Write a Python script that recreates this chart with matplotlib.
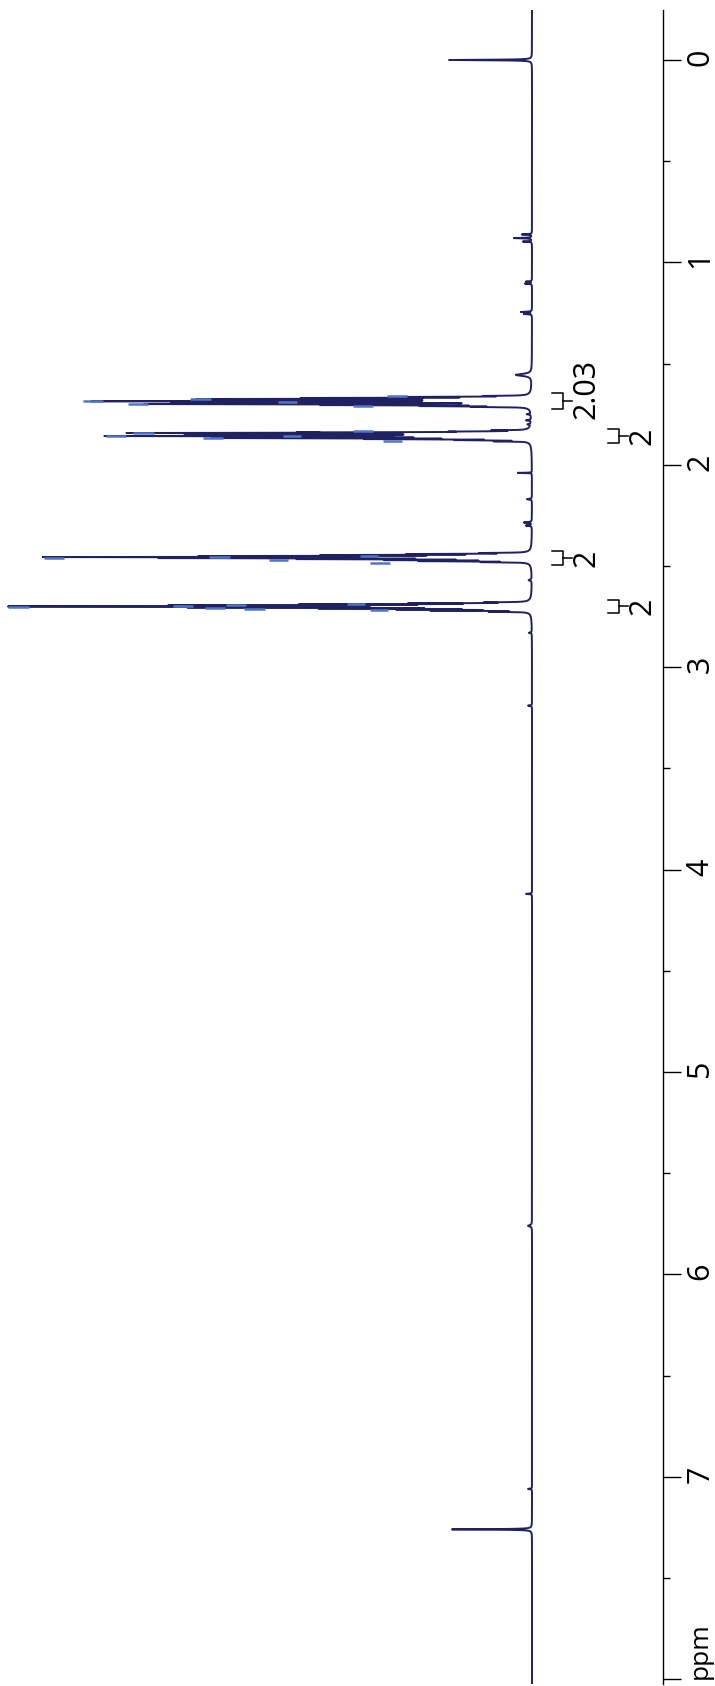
import numpy as np
import matplotlib
matplotlib.use('Agg')
import matplotlib.pyplot as plt

plt.rcParams['font.family'] = ['Open Sans', 'DejaVu Sans']

# peak list: shift (ppm), height, half width (ppm)
peak_ppm = [0.000,
            0.862, 0.880, 0.897,
            1.095, 1.105, 1.245, 1.255, 1.556,
            1.660, 1.665, 1.670, 1.675, 1.680, 1.686, 1.692, 1.700, 1.705, 1.710, 1.714,
            1.750, 1.780, 1.800,
            1.830, 1.836, 1.840, 1.843, 1.848, 1.853, 1.858, 1.863, 1.868, 1.873, 1.878, 1.884,
            2.040, 2.170, 2.285, 2.300,
            2.436, 2.441, 2.446, 2.451, 2.456, 2.461, 2.466, 2.471, 2.476, 2.481,
            2.570,
            2.680, 2.685, 2.690, 2.695, 2.700, 2.705, 2.710, 2.715, 2.720, 2.726,
            2.830, 3.190, 4.120, 5.760, 7.060, 7.260]
peak_height = [83,
               10, 18, 9,
               6, 7, 11, 8, 16,
               35, 120, 200, 301, 260, 409, 330, 364, 180, 90, 45,
               4, 5, 3,
               30, 52, 170, 358, 250, 300, 386, 240, 289, 140, 60, 30,
               14, 5, 8, 6,
               40, 105, 180, 291, 448, 330, 200, 122, 97, 40,
               3,
               35, 102, 200, 319, 483, 300, 180, 112, 87, 35,
               3, 4, 6, 4, 4, 80]
peak_width = [0.0015,
              0.0015, 0.0015, 0.0015,
              0.0015, 0.0015, 0.0015, 0.0015, 0.006,
              0.0012, 0.0012, 0.0012, 0.0012, 0.0012, 0.0012, 0.0012, 0.0012, 0.0012, 0.0012, 0.0012,
              0.002, 0.002, 0.002,
              0.0012, 0.0012, 0.0012, 0.0012, 0.0012, 0.0012, 0.0012, 0.0012, 0.0012, 0.0012, 0.0012, 0.0012,
              0.0008, 0.002, 0.002, 0.002,
              0.0012, 0.0012, 0.0012, 0.0012, 0.0012, 0.0012, 0.0012, 0.0012, 0.0012, 0.0012,
              0.003,
              0.0012, 0.0012, 0.0012, 0.0012, 0.0012, 0.0012, 0.0012, 0.0012, 0.0012, 0.0012,
              0.002, 0.0015, 0.0015, 0.004, 0.0015, 0.0015]

# light blue aliasing dashes beyond the tallest lines
dash_ppm = [1.685, 1.700, 1.675, 1.660, 1.710, 1.690,
            1.843, 1.858, 1.868, 1.833, 1.883, 1.860,
            2.460, 2.456, 2.451, 2.486, 2.470,
            2.703, 2.698, 2.693, 2.708, 2.713, 2.688, 2.718]
dash_from = [449, 404, 342, 145, 179, 254,
             399, 426, 329, 179, 149, 249,
             488, 323, 172, 162, 263,
             524, 359, 306, 327, 288, 185, 162]
dash_to = [429, 384, 321, 125, 159, 235,
           378, 406, 309, 159, 130, 231,
           468, 302, 154, 142, 244,
           503, 339, 286, 307, 267, 167, 144]

# integrals
int_from = [1.645, 1.823, 2.426, 2.668]
int_to = [1.724, 1.892, 2.495, 2.732]
int_label = ['2.03', '2', '2', '2']

tick_ppm = [0, 1, 2, 3, 4, 5, 6, 7, 8]
tick_label = ['0', '1', '2', '3', '4', '5', '6', '7', '']

ppm = np.arange(-0.26, 8.04, 0.0005)
spec = np.zeros_like(ppm)
for c, h, w in zip(peak_ppm, peak_height, peak_width):
    spec += h * w**2 / ((ppm - c)**2 + w**2)

fig = plt.figure(figsize=(7.15, 16.86), dpi=100)
ax = fig.add_axes([0, 2 / 1686, 663 / 715, 1674 / 1686])

navy = '#1f2163'
ax.plot(spec, ppm, color=navy, lw=1.4)
ax.hlines(dash_ppm, dash_from, dash_to, color='#5275c6', lw=1.8)

for i, (a, b, lab) in enumerate(zip(int_from, int_to, int_label)):
    x0 = -20 if i % 2 == 0 else -76
    xv = x0 - 11
    mid = (a + b) / 2
    ax.plot([x0, xv, xv, x0], [a, a, b, b], color='black', lw=1.1)
    ax.plot([xv, xv - 9], [mid, mid], color='black', lw=1.1)
    ax.text(xv - 23, mid - (0.06 if len(lab) > 1 else 0), lab, rotation=90,
            ha='center', va='center', fontsize=22, clip_on=False)

ax.set_xlim(532, -131)
ax.set_ylim(8.024, -0.247)

for s in ['left', 'top', 'bottom']:
    ax.spines[s].set_visible(False)
ax.spines['right'].set_linewidth(1.0)
ax.set_xticks([])
ax.yaxis.tick_right()
ax.set_yticks(tick_ppm)
ax.set_yticklabels(tick_label)
ax.set_yticks(np.arange(0.5, 8, 1.0), minor=True)
ax.tick_params(axis='y', which='major', length=13, width=1.0, pad=3,
               labelsize=22, labelrotation=90)
ax.tick_params(axis='y', which='minor', length=5, width=1.0)
ax.text(1.056, 7.86, 'ppm', rotation=90, ha='center', va='center', fontsize=19,
        transform=ax.get_yaxis_transform(), clip_on=False)

fig.savefig('out.png', dpi=100)
